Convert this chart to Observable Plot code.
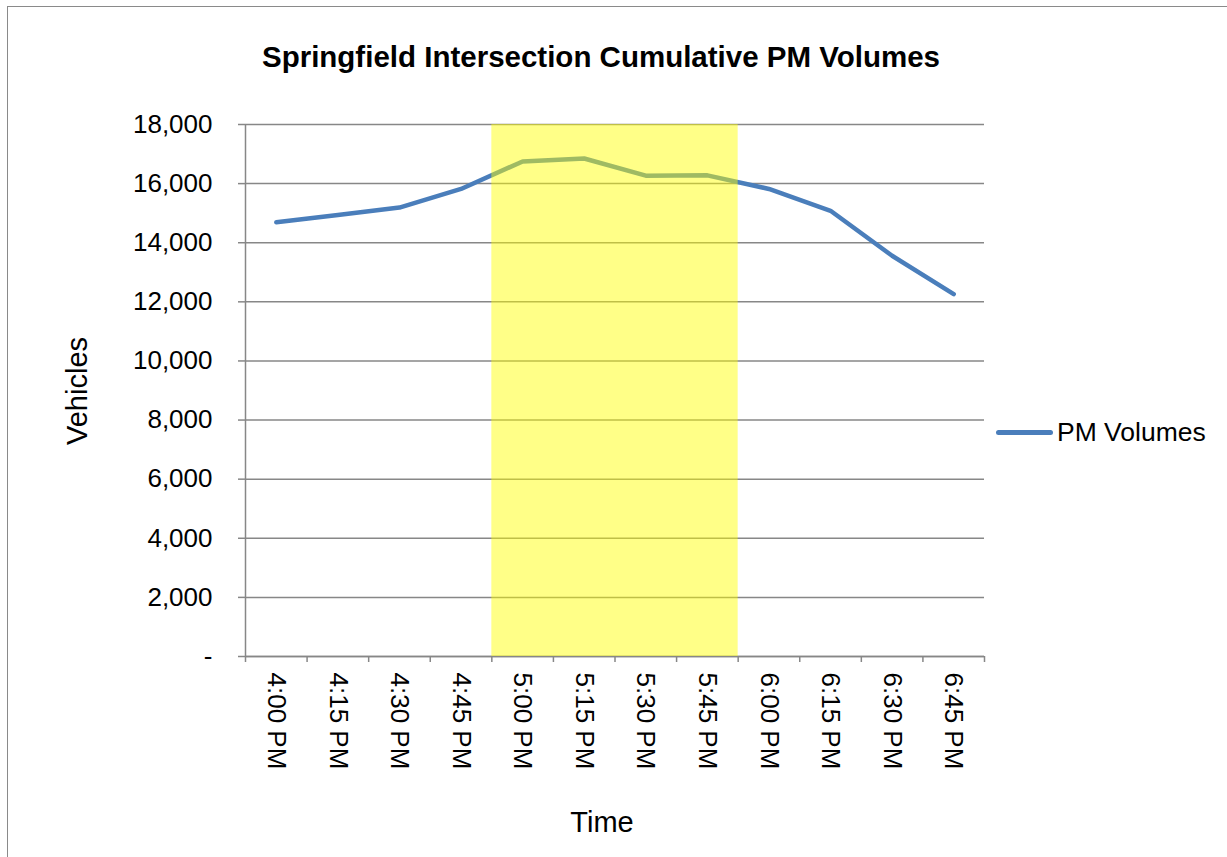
<!DOCTYPE html>
<html>
<head>
<meta charset="utf-8">
<script src="https://cdn.jsdelivr.net/npm/d3@7"></script>
<script src="https://cdn.jsdelivr.net/npm/@observablehq/plot@0.6"></script>
<style>
  html, body { margin: 0; padding: 0; background: #fff; overflow: hidden; width: 1227px; height: 857px; }
  body { position: relative; font-family: "Liberation Sans", Arial, sans-serif; color: #000; }
  #frame { position: absolute; left: 7px; top: 6px; width: 1400px; height: 1000px; border: 1.5px solid #8a8a8a; box-sizing: border-box; }
  #chart { position: absolute; left: 0; top: 0; }
  #title { position: absolute; left: 1px; width: 1200px; top: 40px; line-height: 34px; text-align: center; font-weight: bold; font-size: 29.5px; white-space: nowrap; }
  #ylabel { position: absolute; left: 77px; top: 391px; transform: translate(-50%, -50%) rotate(-90deg); font-size: 29px; white-space: nowrap; }
  #xlabel { position: absolute; left: 302px; width: 600px; top: 805px; line-height: 34px; text-align: center; font-size: 29px; }
  #legend { position: absolute; left: 996px; top: 415px; height: 34px; display: flex; align-items: center; font-size: 26.5px; white-space: nowrap; }
  #legend .sw { width: 57px; height: 5px; border-radius: 3px; margin-right: 4px; }
</style>
</head>
<body>
<div id="frame"></div>
<div id="chart"></div>
<div id="title"></div>
<div id="ylabel"></div>
<div id="xlabel"></div>
<div id="legend"><span class="sw"></span><span class="txt"></span></div>
<script>
// ---- data ----
const chartTitle = "Springfield Intersection Cumulative PM Volumes";
const xTitle = "Time";
const yTitle = "Vehicles";
const seriesName = "PM Volumes";
const times = ["4:00 PM", "4:15 PM", "4:30 PM", "4:45 PM", "5:00 PM", "5:15 PM",
               "5:30 PM", "5:45 PM", "6:00 PM", "6:15 PM", "6:30 PM", "6:45 PM"];
const volumes = [14690, 14940, 15190, 15820, 16750, 16850, 16270, 16280, 15820, 15080, 13560, 12260];
const yTicks = [0, 2000, 4000, 6000, 8000, 10000, 12000, 14000, 16000, 18000];
const peakStart = "5:00 PM";
const peakEnd = "5:45 PM";

// ---- styles ----
const lineColor = "#4a7ebb";
const gridColor = "#878787";
const highlightColor = "#ffff00";

document.getElementById("title").textContent = chartTitle;
document.getElementById("ylabel").textContent = yTitle;
document.getElementById("xlabel").textContent = xTitle;
document.querySelector("#legend .txt").textContent = seriesName;
document.querySelector("#legend .sw").style.background = lineColor;

const rows = times.map((t, i) => ({i, time: t, value: volumes[i]}));
const centers = times.map((_, i) => i);
const bounds = times.map((_, i) => i - 0.5).concat([times.length - 0.5]);
const yMax = yTicks[yTicks.length - 1];
const peak = [{x1: times.indexOf(peakStart) - 0.5, x2: times.indexOf(peakEnd) + 0.5, y1: 0, y2: yMax}];
const fmt = d3.format(",");

const chart = Plot.plot({
  width: 1227,
  height: 857,
  marginLeft: 245,
  marginRight: 243,
  marginTop: 124,
  marginBottom: 201,
  style: {fontFamily: "'Liberation Sans', Arial, sans-serif", fontSize: "26px", background: "transparent", overflow: "visible"},
  x: {type: "linear", domain: [-0.5, times.length - 0.5]},
  y: {domain: [0, yMax]},
  marks: [
    Plot.gridY(yTicks, {stroke: gridColor, strokeOpacity: 1, strokeWidth: 1.5}),
    Plot.ruleX([-0.5], {stroke: gridColor, strokeWidth: 1.5}),
    Plot.ruleY([0], {stroke: gridColor, strokeWidth: 1.5}),
    Plot.axisY(yTicks, {tickSize: 7, tickPadding: 26, stroke: gridColor, strokeWidth: 1.5, fill: "#000",
      tickFormat: d => d === 0 ? "-" : fmt(d), fontSize: 26, label: null}),
    Plot.axisX(bounds, {tickSize: 6, stroke: gridColor, strokeWidth: 1.5, tickFormat: () => "", label: null}),
    Plot.axisX(centers, {tickSize: 0, tickPadding: 16, tickRotate: 90, fill: "#000",
      tickFormat: i => times[i], fontSize: 26, label: null}),
    Plot.line(rows, {x: "i", y: "value", stroke: lineColor, strokeWidth: 4.5, strokeLinecap: "round", strokeLinejoin: "round"}),
    Plot.rect(peak, {x1: "x1", x2: "x2", y1: "y1", y2: "y2", fill: highlightColor, fillOpacity: 0.47})
  ]
});
document.getElementById("chart").appendChild(chart);
</script>
</body>
</html>
